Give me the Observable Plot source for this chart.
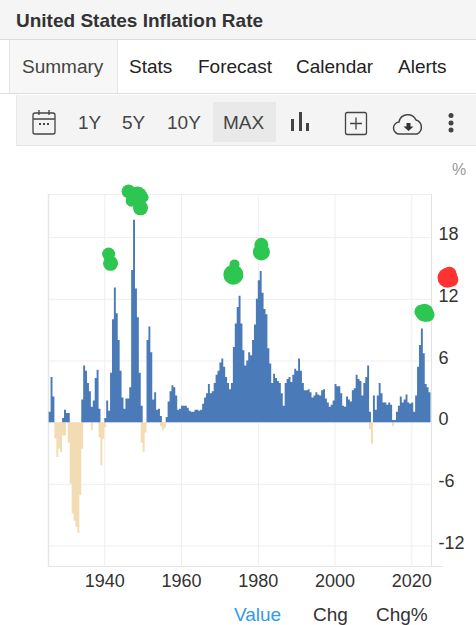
<!DOCTYPE html>
<html><head><meta charset="utf-8">
<script src="https://cdn.jsdelivr.net/npm/d3@7"></script>
<script src="https://cdn.jsdelivr.net/npm/@observablehq/plot@0.6"></script>
<style>
html,body{margin:0;padding:0;background:#fff;}
body{width:476px;height:625px;position:relative;overflow:hidden;font-family:"Liberation Sans",Arial,sans-serif;color:#333;}
.a{position:absolute;white-space:nowrap;}
#head{left:0;top:0;width:476px;height:39px;background:#f5f5f5;border-bottom:1px solid #ddd;}
#title{left:16px;top:9px;font-size:19px;line-height:24px;font-weight:bold;color:#333;}
#tabline{left:0;top:93px;width:476px;height:1px;background:#ddd;}
#active{left:9px;top:40px;width:107px;height:53px;background:#f7f7f7;border-left:1px solid #e6e6e6;border-right:1px solid #e6e6e6;}
.tab{top:55px;font-size:19px;line-height:24px;color:#222;}
#bar{left:16px;top:95px;width:460px;height:51px;background:#f4f4f4;border-left:1px solid #e8e8e8;border-bottom:1px solid #e4e4e4;box-sizing:border-box;}
#max{left:213px;top:102px;width:63px;height:40px;background:#e9e9e9;}
.btn{top:111px;font-size:19px;line-height:24px;color:#444;}
.leg{top:605px;font-size:19px;line-height:20px;color:#333;}
#plot{left:0;top:150px;}
#icons{left:0;top:100px;}
</style></head>
<body>
<div class="a" id="head"></div>
<div class="a" id="title">United States Inflation Rate</div>
<div class="a" id="active"></div>
<div class="a" id="tabline"></div>
<div class="a tab" style="left:22px;color:#444">Summary</div>
<div class="a tab" style="left:129px">Stats</div>
<div class="a tab" style="left:198px">Forecast</div>
<div class="a tab" style="left:296px">Calendar</div>
<div class="a tab" style="left:398px">Alerts</div>
<div class="a" id="bar"></div>
<div class="a" id="max"></div>
<div class="a btn" style="left:78px">1Y</div>
<div class="a btn" style="left:122px">5Y</div>
<div class="a btn" style="left:167px">10Y</div>
<div class="a btn" style="left:223px">MAX</div>
<svg class="a" id="icons" width="476" height="44" viewBox="0 100 476 44">
  <g fill="none" stroke="#444" stroke-width="1.3">
    <rect x="33" y="113" width="22" height="21" rx="2"/>
    <path d="M33 119H55M39 110V115M49 110V115"/>
    <rect x="345.500" y="112.500" width="21" height="22" rx="2"/>
    <path d="M350 123.500H362M356 117.500V129.500"/>
    <path d="M400 134a6 6 0 0 1-1-12a9 9 0 0 1 17-2a7.500 7.500 0 0 1 1 14z" stroke-width="1.500"/>
  </g>
  <path d="M406.500 123h4v3.500h3l-5 4.500l-5-4.500h3z" fill="#333"/>
  <g fill="#444">
    <rect x="39" y="123" width="2" height="2"/><rect x="43" y="123" width="2" height="2"/><rect x="47" y="123" width="2" height="2"/>
    <rect x="291" y="119" width="3" height="12"/>
    <rect x="299" y="112" width="3" height="19"/>
    <rect x="306" y="123" width="3" height="8"/>
    <circle cx="451" cy="115.500" r="2.500"/><circle cx="451" cy="123" r="2.500"/><circle cx="451" cy="130" r="2.500"/>
  </g>
</svg>
<div class="a" id="plot"></div>
<div class="a" style="left:452px;top:160px;font-size:16px;line-height:20px;color:#999">%</div>
<div class="a leg" style="left:234px;color:#2f9bea">Value</div>
<div class="a leg" style="left:313px">Chg</div>
<div class="a leg" style="left:376px">Chg%</div>
<script>
// Half-yearly readings (two values per year), first value of each list at the named start.
const start1925 = 1925.5;
const values1925 = [1.0, 4.4,2.5, 0,0, 0,0, 0.4,1.2, 0.9,0.9, 0,0, 0,0, 0,0, 2.2,5.5, 5.0,3.8, 3.0,1.5, 2.1,4.3, 5.1,1.3, 0,0];
const start1940 = 1940;
const values1940 = [0.4,2.1, 1.1,4.8, 10,13.1, 10.6,8, 5,2.4, 1.3,2.3, 2.3,3.4, 14.8,19.7, 13,10.2, 4.8,1.6,
                    0,0, 8,9.3, 6.8,2.2, 2.9,1.2, 1.3,0.6, 0,0, 0.5,2, 3,3.6, 3.4,2.6, 1.2,1.3];
const start1960 = 1960;
const values1960 = [1.6,1.6, 1.6,1.4, 1.1,1.0, 1.0,1.2, 1.2,1.1, 1.2,1.8, 2.4,2.8, 3.7,2.8, 3.0,3.8, 4.6,5.0,
                    5.8,6.2, 5.4,4.4, 3.8,3.2, 3.8,7.3, 9.6,11.2, 12.3,9.6, 7,5.5, 6.0,6.8, 6.5,8.0, 9.5,12.0];
const start1980 = 1980;
const values1980 = [13.8,14.7, 12.6,11.0, 10.5,7.2, 5.7,3.8, 4.7,4.3, 4,3.8, 2.8,1.6, 3.8,4.2, 4.4,3.9, 4.6,5.2,
                    5,6.2, 5,3.8, 3.1,3.1, 3.2,2.9, 2.4,2.6, 2.9,2.7, 2.6,3.1, 3.2,2.3, 1.9,1.5, 1.7,2.1];
const start2000 = 2000;
const values2000 = [3.7,3.5, 3.5,2.8, 1.6,1.5, 2.5,2.2, 2,3.1, 3.3,4.6, 4.2,4.0, 2.6,3.8, 4.4,5.5, 1,0,
                    2.6,1.2, 2.6,3.8, 2.8,1.9, 1.9,1.7, 1.9,1.7, 0.2,0.2, 1,1.6, 2.5,1.9, 2.2,2.7, 1.9,1.8,
                    1.9,1, 2.6,5.4, 7.5,9.1, 6.7,3.7, 3.4,2.9];

// Deflation periods
const negYears  = [1927,1927.5,1928,1928.5,1929,1929.5, 1930.5,1931,1931.5,1932,1932.5,1933,1933.5,1934, 1936.5, 1938.5,1939,1939.5,1940, 1949.5,1950,1950.5, 1954.5,1955,1955.5, 2009,2009.5, 2015];
const negValues = [-1.6,-3.4,-2.6,-2.9,-1.3,-1.3, -2.0,-6,-8.9,-9.6,-10.2,-10.8,-7.1,-2.6, -0.8, -1.5,-4.2,-1.6,-0.5, -2.0,-2.9,-1.0, -0.4,-0.8,-0.6, -0.7,-2.1, -0.4];

// Hand-drawn annotation blobs
const greenYears  = [1946.2,1948.5,1949.3,1947,1950.1, 1941,1941.5, 1973.8,1973.5, 1980.8,1980.8, 2023.3,2022.5,2024.1];
const greenValues = [22.5,22,20.9,21.6,21.9, 16.4,15.5, 15.4,14.4, 17.3,16.6, 10.7,10.8,10.5];
const greenSizes  = [7,10,7.500,6,5, 6.500,7.500, 5,10, 7,8.500, 9,7,7];
const redYears  = [2029.3,2029.8,2030.3];
const redValues = [14.1,14.5,13.9];
const redSizes  = [10,7,7];

const yTicks = [18,12,6,0,-6,-12];
const xTicks = [1940,1960,1980,2000,2020];

const series = (s, v) => v.map((d,i) => ({x: s + i/2, v: d}));
const pos = [].concat(series(start1925,values1925), series(start1940,values1940), series(start1960,values1960),
                      series(start1980,values1980), series(start2000,values2000));
// Each reading holds for half a year: close every step so the area is a run of touching bars.
const steps = rows => rows.flatMap(d => [{x: d.x, v: d.v}, {x: d.x + 0.5, v: d.v}, {x: d.x + 0.5, v: 0}]);
const neg = negYears.map((x,i) => ({x, v: negValues[i]}));
const joined = rows => rows.flatMap((d,i) => {
  const next = rows[i+1];
  const out = [{x: d.x, v: d.v}];
  if (!next || next.x > d.x + 0.5) out.push({x: d.x + 0.5, v: 0});
  return out;
});
const posLast = pos[pos.length-1];
const posArea = pos.concat([{x: posLast.x + 0.5, v: 0}]);
const green = greenYears.map((x,i) => ({x, v: greenValues[i], r: greenSizes[i]}));
const red = redYears.map((x,i) => ({x, v: redValues[i], r: redSizes[i]}));
const gridC = "#eeeeee";

const chart = Plot.plot({
  width: 476, height: 445,
  marginLeft: 48, marginRight: 45, marginTop: 44, marginBottom: 29,
  style: {fontFamily: '"Liberation Sans",Arial,sans-serif', background: "transparent", overflow: "visible"},
  x: {domain: [1925.33, 2025.13], label: null},
  y: {domain: [-14, 22.2], label: null},
  r: {type: "identity"},
  marks: [
    Plot.ruleY(yTicks.concat([22.2]), {stroke: gridC, strokeWidth: 1}),
    Plot.ruleX(xTicks, {stroke: gridC, strokeWidth: 1}),
    Plot.ruleX([2025.13], {stroke: "#e2e2e2", strokeWidth: 1}),
    Plot.ruleX([1925.33], {stroke: "#e6e6e6", strokeWidth: 1.500}),
    Plot.ruleY([-14], {stroke: "#e6e6e6", strokeWidth: 1, insetRight: -12}),
    Plot.areaY(joined(neg), {x: "x", y1: 0, y2: "v", curve: "step-after", fill: "#f3dcb3"}),
    Plot.areaY(posArea, {x: "x", y1: 0, y2: "v", curve: "step-after", fill: "#4a7ab8"}),
    Plot.dot(green, {x: "x", y: "v", r: "r", fill: "#2cc650"}),
    Plot.dot(red, {x: "x", y: "v", r: "r", fill: "#ff3232"}),
    Plot.axisY(yTicks, {anchor: "right", tickSize: 0, tickPadding: 7, fontSize: 18, fill: "#333", dy: -3, label: null, tickFormat: d => String(d)}),
    Plot.axisX(xTicks, {anchor: "bottom", tickSize: 0, tickPadding: 8, fontSize: 18, fill: "#333", label: null, tickFormat: d => String(d)})
  ]
});
document.getElementById("plot").appendChild(chart);
</script>
</body></html>
